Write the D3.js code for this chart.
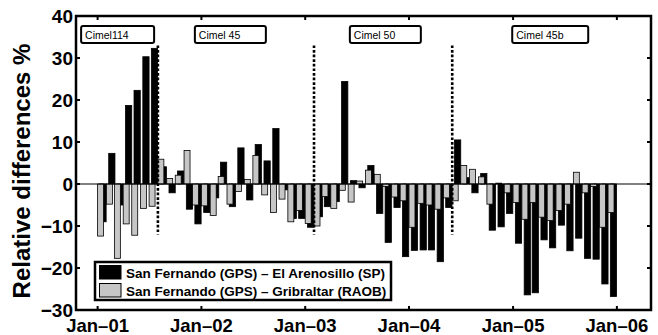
<!DOCTYPE html>
<html>
<head>
<meta charset="utf-8">
<script src="https://cdn.jsdelivr.net/npm/d3@7"></script>
<style>
  body { margin: 0; background: #fff; }
  svg { display: block; }
  text { font-family: "Liberation Sans", Arial, Helvetica, sans-serif; }
</style>
</head>
<body>
<svg id="chart" width="658" height="335"></svg>
<script>
// Monthly relative differences (%) of San Fernando GPS precipitable water, Jan 2001 – Dec 2005
const arenosillo = [
  -9.0, 7.3, -5.0, 18.7, 22.3, 30.3, 32.3, 4.1, -2.1, 3.1, -6.0, -9.5,
  -6.8, -3.3, 5.2, -5.4, 8.6, -3.8, 9.4, 5.5, 13.2, -1.4, -8.2, -8.2,
  -10.3, -7.8, -5.4, -4.2, 24.4, 0.8, -0.9, 4.4, -7.0, -13.9, -5.6, -17.3,
  -15.8, -15.7, -15.7, -18.5, -5.6, 10.5, 1.5, -2.1, 2.5, -11.0, -10.2, -7.0,
  -14.1, -26.4, -25.9, -13.3, -15.2, -9.8, -15.9, -12.9, -17.7, -17.9, -23.8, -26.8
];
const gibraltar = [
  -12.4, -4.8, -17.7, -9.5, -12.2, -5.8, -5.3, 5.9, 1.3, 2.1, 8.0, -5.0,
  -5.2, -7.5, 1.8, -4.8, -1.8, 1.1, 6.8, -2.6, -6.8, -3.6, -9.0, -6.3,
  -9.4, -10.0, -3.0, -5.8, -1.5, -4.3, 0.7, 3.3, 2.3, -0.6, -3.1, -4.0,
  -10.3, -4.6, -5.0, -6.0, -3.3, -4.0, 4.4, 3.5, 1.7, -4.8, 0.2, -2.1,
  -4.4, -8.4, -4.4, -7.9, -8.7, -6.3, -4.8, 2.8, -2.1, -0.6, -10.3, -6.8
];
const months = d3.timeMonths(new Date(2001, 0, 1), new Date(2006, 0, 1));

const seriesNames = [
  "San Fernando (GPS) – El Arenosillo (SP)",
  "San Fernando (GPS) – Gribraltar (RAOB)"
];
const xTickDates = [2001, 2002, 2003, 2004, 2005, 2006].map(y => new Date(y, 0, 1));
const xTickLabels = ["Jan–01", "Jan–02", "Jan–03", "Jan–04", "Jan–05", "Jan–06"];
const yTicks = [-30, -20, -10, 0, 10, 20, 30, 40];

// Photometer periods: label boxes and the instrument change dates
const instruments = ["Cimel114", "Cimel 45", "Cimel 50", "Cimel 45b"];
const instrumentLabelDates = [new Date(2000, 10, 4), new Date(2001, 11, 9), new Date(2003, 5, 7), new Date(2004, 11, 29)];
const instrumentChanges = [new Date(2001, 7, 1), new Date(2003, 1, 1), new Date(2004, 5, 1)];
const changeSpan = [33, -12];

const svg = d3.select("#chart");
const plot = { left: 76, right: 651, top: 16, bottom: 310 };

const x = d3.scaleTime()
  .domain([new Date(2000, 9, 17), new Date(2006, 4, 1)])
  .range([plot.left, plot.right]);
const y = d3.scaleLinear().domain([-30, 40]).range([plot.bottom, plot.top]);

const black = "#000", grey = "#c6c6c6";

// bars: the El Arenosillo bar sits slightly right of the Gibraltar one, which is drawn on top
const rows = months.map((m, i) => ({ m, a: arenosillo[i], g: gibraltar[i] }));

svg.append("g").selectAll("rect").data(rows).join("rect")
  .attr("x", d => x(d3.timeDay.offset(d.m, 8)))
  .attr("width", d => x(d3.timeDay.offset(d.m, 30)) - x(d3.timeDay.offset(d.m, 8)))
  .attr("y", d => y(Math.max(0, d.a)))
  .attr("height", d => Math.abs(y(d.a) - y(0)))
  .attr("fill", black).attr("stroke", black).attr("stroke-width", 0.8);

svg.append("g").selectAll("rect").data(rows).join("rect")
  .attr("x", d => x(d.m))
  .attr("width", d => x(d3.timeDay.offset(d.m, 21)) - x(d.m))
  .attr("y", d => y(Math.max(0, d.g)))
  .attr("height", d => Math.abs(y(d.g) - y(0)))
  .attr("fill", grey).attr("stroke", black).attr("stroke-width", 0.8);

// zero baseline
svg.append("line")
  .attr("x1", plot.left).attr("x2", plot.right)
  .attr("y1", y(0)).attr("y2", y(0))
  .attr("stroke", black).attr("stroke-width", 1);

// instrument change markers
svg.append("g").selectAll("line").data(instrumentChanges).join("line")
  .attr("x1", d => x(d)).attr("x2", d => x(d))
  .attr("y1", y(changeSpan[0])).attr("y2", y(changeSpan[1]))
  .attr("stroke", black).attr("stroke-width", 2.6)
  .attr("stroke-dasharray", "2.7,1.9");

// instrument label boxes
const boxW = [73, 71, 71, 76];
const boxes = svg.append("g").selectAll("g").data(instruments).join("g")
  .attr("transform", (d, i) => `translate(${x(instrumentLabelDates[i])},26)`);
boxes.append("rect")
  .attr("width", (d, i) => boxW[i]).attr("height", 17)
  .attr("rx", 2).attr("fill", "#fff").attr("stroke", black).attr("stroke-width", 2);
boxes.append("text")
  .attr("x", 4).attr("y", 12.5)
  .attr("font-size", 10.5).text(d => d);

// frame
svg.append("rect")
  .attr("x", plot.left).attr("y", plot.top)
  .attr("width", plot.right - plot.left).attr("height", plot.bottom - plot.top)
  .attr("fill", "none").attr("stroke", black).attr("stroke-width", 2.5);

// inward ticks on all four sides
const tk = 4;
const ticks = svg.append("g").attr("stroke", black).attr("stroke-width", 2);
xTickDates.forEach(d => {
  ticks.append("line").attr("x1", x(d)).attr("x2", x(d)).attr("y1", plot.bottom).attr("y2", plot.bottom - tk);
  ticks.append("line").attr("x1", x(d)).attr("x2", x(d)).attr("y1", plot.top).attr("y2", plot.top + tk);
});
yTicks.forEach(v => {
  ticks.append("line").attr("x1", plot.left).attr("x2", plot.left + tk).attr("y1", y(v)).attr("y2", y(v));
  ticks.append("line").attr("x1", plot.right).attr("x2", plot.right - tk).attr("y1", y(v)).attr("y2", y(v));
});

// tick labels
const fmt = d3.format("d");
svg.append("g").selectAll("text").data(yTicks).join("text")
  .attr("x", plot.left - 3).attr("y", d => y(d)).attr("dy", "0.36em")
  .attr("text-anchor", "end").attr("font-weight", "bold").attr("font-size", 19)
  .text(d => fmt(d));
svg.append("g").selectAll("text").data(xTickDates).join("text")
  .attr("x", d => x(d)).attr("y", 332)
  .attr("text-anchor", "middle").attr("font-weight", "bold").attr("font-size", 18.5)
  .text((d, i) => xTickLabels[i]);

// y axis title
svg.append("text")
  .attr("transform", `translate(30,${(plot.top + plot.bottom) / 2 + 8}) rotate(-90)`)
  .attr("text-anchor", "middle").attr("font-weight", "bold").attr("font-size", 24)
  .text("Relative differences %");

// legend
const lg = svg.append("g").attr("transform", "translate(95,262)");
lg.append("rect").attr("width", 296).attr("height", 38)
  .attr("fill", "#fff").attr("stroke", black).attr("stroke-width", 2.5);
[black, grey].forEach((c, i) => {
  lg.append("rect").attr("x", 4.5).attr("y", 3.5 + i * 18).attr("width", 21.5).attr("height", 13.5)
    .attr("fill", c).attr("stroke", black).attr("stroke-width", 1);
  lg.append("text").attr("x", 31).attr("y", 15.5 + i * 18)
    .attr("font-weight", "bold").attr("font-size", 13.5)
    .text(seriesNames[i]);
});
</script>
</body>
</html>
